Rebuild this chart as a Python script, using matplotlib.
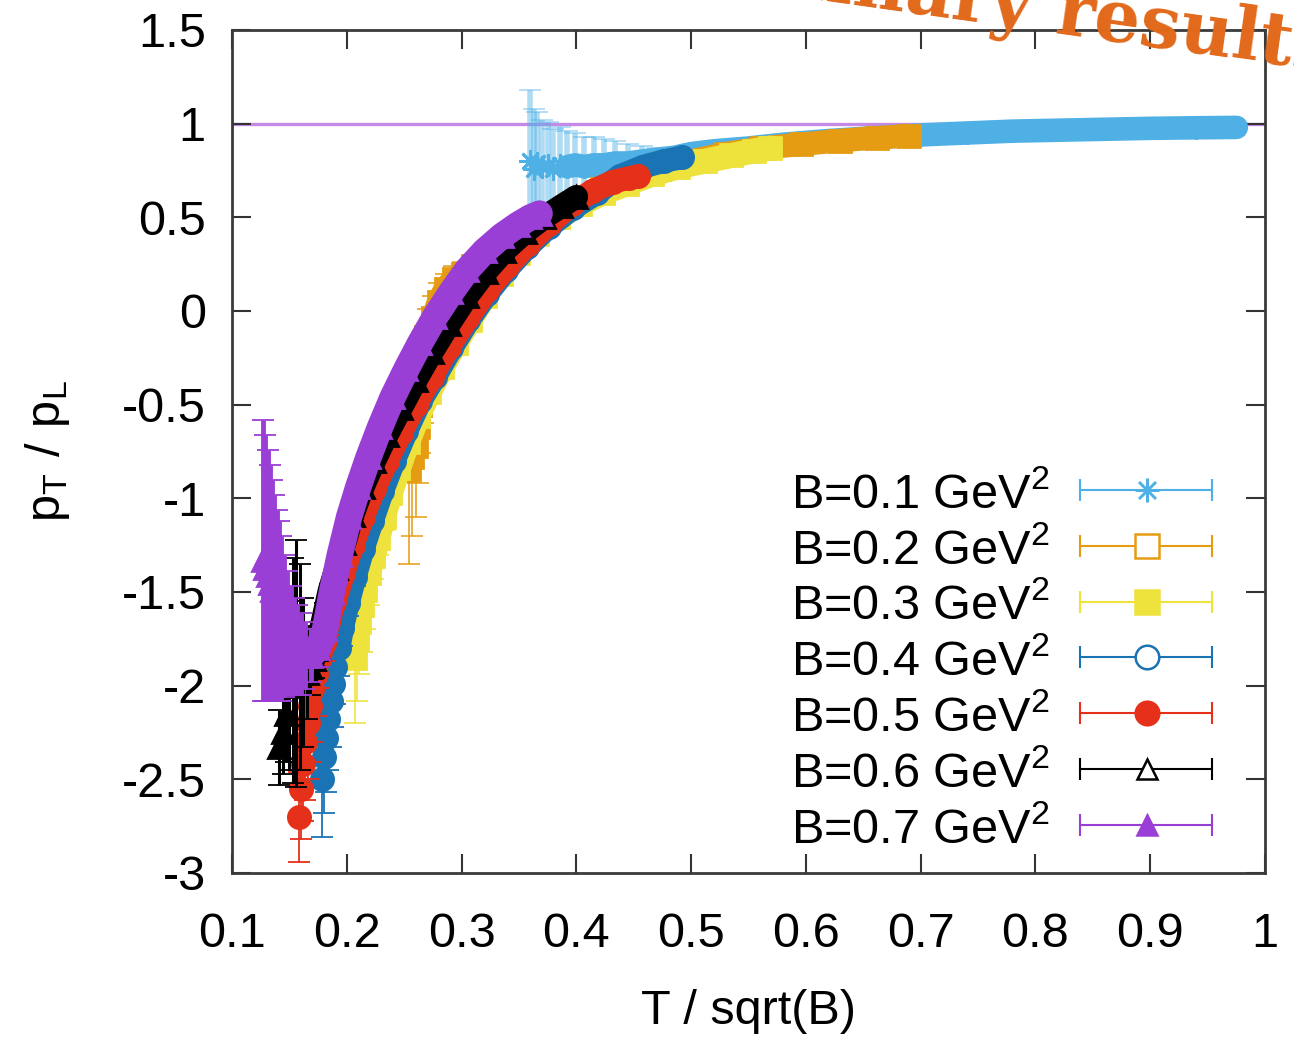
import numpy as np
import matplotlib
matplotlib.use('Agg')
import matplotlib.pyplot as plt

plt.rcParams['font.family'] = ['Liberation Sans', 'DejaVu Sans']
plt.rcParams['axes.unicode_minus'] = False

# ---------- data ----------
# x = T / sqrt(B), y = pT / pL, e = error

x_b01 = [0.360, 0.363, 0.366, 0.370, 0.375, 0.380, 0.386, 0.392, 0.399, 0.407, 0.415,
         0.424, 0.434, 0.445, 0.457, 0.470, 0.485, 0.500, 0.520, 0.550, 0.580, 0.620,
         0.660, 0.700, 0.740, 0.780, 0.820, 0.860, 0.900, 0.940, 0.975]
y_b01 = [0.80, 0.76, 0.79, 0.77, 0.78, 0.76, 0.78, 0.77, 0.78, 0.77, 0.78,
         0.78, 0.79, 0.79, 0.80, 0.81, 0.82, 0.84, 0.855, 0.87, 0.89, 0.91,
         0.925, 0.94, 0.95, 0.96, 0.965, 0.97, 0.975, 0.978, 0.98]
e_b01 = [0.38, 0.32, 0.27, 0.25, 0.23, 0.21, 0.20, 0.19, 0.17, 0.16, 0.15,
         0.14, 0.12, 0.10, 0.08, 0.06, 0.04, 0.03, 0.02, 0.015, 0.01, 0.01,
         0.01, 0.01, 0.01, 0.01, 0.01, 0.01, 0.01, 0.01, 0.01]

x_b02 = [0.254, 0.257, 0.260, 0.262, 0.264, 0.266, 0.268, 0.271, 0.275, 0.280, 0.286,
         0.293, 0.301, 0.310, 0.320, 0.332, 0.346, 0.362, 0.380, 0.400, 0.422, 0.446,
         0.472, 0.500, 0.530, 0.562, 0.596, 0.630, 0.662, 0.690]
y_b02 = [-0.85, -0.78, -0.72, -0.62, -0.50, -0.38, -0.26, -0.14, -0.04, 0.05, 0.12,
         0.17, 0.20, 0.24, 0.27, 0.31, 0.37, 0.44, 0.51, 0.58, 0.65, 0.71,
         0.76, 0.80, 0.84, 0.87, 0.89, 0.91, 0.925, 0.935]
e_b02 = [0.50, 0.42, 0.38, 0.30, 0.26, 0.22, 0.18, 0.15, 0.12, 0.10, 0.08,
         0.07, 0.06, 0.05, 0.04, 0.03, 0.03, 0.02, 0.02, 0.02, 0.02, 0.02,
         0.02, 0.02, 0.02, 0.02, 0.02, 0.02, 0.02, 0.02]

x_b03 = [0.207, 0.209, 0.211, 0.213, 0.216, 0.219, 0.223, 0.227, 0.232, 0.238, 0.245,
         0.253, 0.262, 0.272, 0.283, 0.295, 0.307, 0.320, 0.334, 0.349, 0.366, 0.384,
         0.403, 0.423, 0.444, 0.466, 0.489, 0.512, 0.535, 0.555, 0.569]
y_b03 = [-1.85, -1.75, -1.66, -1.57, -1.49, -1.40, -1.31, -1.21, -1.10, -0.97, -0.84,
         -0.70, -0.56, -0.43, -0.30, -0.17, -0.05, 0.08, 0.20, 0.31, 0.41, 0.50,
         0.57, 0.63, 0.68, 0.73, 0.77, 0.80, 0.83, 0.855, 0.87]
e_b03 = [0.35, 0.33, 0.28, 0.25, 0.21, 0.17, 0.12, 0.09, 0.07, 0.05, 0.04,
         0.03, 0.02, 0.02, 0.02, 0.02, 0.02, 0.02, 0.02, 0.02, 0.02, 0.02,
         0.02, 0.02, 0.02, 0.02, 0.02, 0.02, 0.02, 0.02, 0.02]

x_b04 = [0.178, 0.180, 0.182, 0.184, 0.186, 0.188, 0.190, 0.193, 0.196, 0.201, 0.207,
         0.214, 0.222, 0.231, 0.241, 0.252, 0.264, 0.277, 0.291, 0.306, 0.322, 0.339,
         0.357, 0.376, 0.397, 0.418, 0.438, 0.458, 0.476, 0.492]
y_b04 = [-2.50, -2.38, -2.28, -2.18, -2.08, -1.99, -1.90, -1.80, -1.69, -1.56, -1.42,
         -1.27, -1.12, -0.96, -0.80, -0.64, -0.48, -0.35, -0.20, -0.05, 0.09, 0.22,
         0.34, 0.45, 0.55, 0.63, 0.72, 0.77, 0.80, 0.82]
e_b04 = [0.31, 0.30, 0.29, 0.27, 0.25, 0.23, 0.20, 0.15, 0.10, 0.07, 0.05,
         0.04, 0.03, 0.03, 0.02, 0.02, 0.02, 0.02, 0.02, 0.02, 0.02, 0.02,
         0.02, 0.02, 0.02, 0.02, 0.02, 0.02, 0.02, 0.02]

x_b05 = [0.158, 0.160, 0.162, 0.164, 0.166, 0.168, 0.170, 0.173, 0.176, 0.180, 0.184,
         0.190, 0.197, 0.205, 0.214, 0.224, 0.235, 0.247, 0.260, 0.274, 0.289, 0.305,
         0.322, 0.340, 0.358, 0.377, 0.396, 0.414, 0.432, 0.446, 0.454]
y_b05 = [-2.70, -2.55, -2.42, -2.30, -2.20, -2.11, -2.02, -1.94, -1.86, -1.77, -1.66,
         -1.54, -1.40, -1.25, -1.10, -0.95, -0.80, -0.65, -0.50, -0.35, -0.19, -0.04,
         0.11, 0.24, 0.36, 0.47, 0.57, 0.64, 0.69, 0.71, 0.72]
e_b05 = [0.24, 0.27, 0.30, 0.31, 0.30, 0.30, 0.28, 0.22, 0.15, 0.10, 0.07,
         0.05, 0.04, 0.03, 0.02, 0.02, 0.02, 0.02, 0.02, 0.02, 0.02, 0.02,
         0.02, 0.02, 0.02, 0.02, 0.02, 0.02, 0.02, 0.02, 0.02]

x_b06 = [0.141, 0.144, 0.147, 0.150, 0.153, 0.156, 0.159, 0.162, 0.165, 0.168, 0.171,
         0.175, 0.177, 0.181, 0.185, 0.191, 0.198, 0.205, 0.214, 0.224, 0.235, 0.247,
         0.260, 0.274, 0.289, 0.305, 0.321, 0.337, 0.355, 0.372, 0.387, 0.400]
y_b06 = [-2.33, -2.25, -2.15, -2.00, -1.92, -1.88, -1.90, -1.93, -1.93, -1.90, -1.86,
         -1.80, -1.71, -1.60, -1.49, -1.37, -1.24, -1.09, -0.94, -0.80, -0.66, -0.52,
         -0.37, -0.22, -0.07, 0.08, 0.21, 0.32, 0.42, 0.50, 0.56, 0.61]
e_b06 = [0.20, 0.22, 0.26, 0.45, 0.60, 0.66, 0.55, 0.40, 0.25, 0.15, 0.10,
         0.07, 0.05, 0.04, 0.03, 0.03, 0.02, 0.02, 0.02, 0.02, 0.02, 0.02,
         0.02, 0.02, 0.02, 0.02, 0.02, 0.02, 0.02, 0.02, 0.02, 0.02]

x_b07 = [0.127, 0.129, 0.131, 0.133, 0.135, 0.137, 0.139, 0.141, 0.143, 0.145, 0.148,
         0.151, 0.154, 0.157, 0.160, 0.164, 0.169, 0.175, 0.181, 0.187, 0.194, 0.202,
         0.210, 0.219, 0.229, 0.240, 0.252, 0.264, 0.277, 0.291, 0.305, 0.320, 0.335,
         0.349, 0.360, 0.368]
y_b07 = [-1.33, -1.37, -1.41, -1.45, -1.49, -1.53, -1.57, -1.60, -1.64, -1.68, -1.72,
         -1.76, -1.79, -1.81, -1.83, -1.84, -1.84, -1.80, -1.70, -1.50, -1.30, -1.10,
         -0.94, -0.78, -0.62, -0.46, -0.31, -0.17, -0.03, 0.10, 0.22, 0.32, 0.40,
         0.46, 0.50, 0.52]
e_b07 = [0.75, 0.71, 0.67, 0.63, 0.59, 0.55, 0.51, 0.48, 0.44, 0.38, 0.33,
         0.29, 0.26, 0.24, 0.22, 0.18, 0.14, 0.10, 0.07, 0.05, 0.04, 0.03,
         0.02, 0.02, 0.02, 0.02, 0.02, 0.02, 0.02, 0.02, 0.02, 0.02, 0.02,
         0.02, 0.02, 0.02]

labels = ['B=0.1 GeV$\\mathregular{^2}$', 'B=0.2 GeV$\\mathregular{^2}$',
          'B=0.3 GeV$\\mathregular{^2}$', 'B=0.4 GeV$\\mathregular{^2}$',
          'B=0.5 GeV$\\mathregular{^2}$', 'B=0.6 GeV$\\mathregular{^2}$',
          'B=0.7 GeV$\\mathregular{^2}$']

x_ticks = [0.1, 0.2, 0.3, 0.4, 0.5, 0.6, 0.7, 0.8, 0.9, 1.0]
x_ticklabels = ['0.1', '0.2', '0.3', '0.4', '0.5', '0.6', '0.7', '0.8', '0.9', '1']
y_ticks = [1.5, 1.0, 0.5, 0.0, -0.5, -1.0, -1.5, -2.0, -2.5, -3.0]
y_ticklabels = ['1.5', '1', '0.5', '0', '-0.5', '-1', '-1.5', '-2', '-2.5', '-3']

# ---------- style ----------
colors = ['#4fb0e6', '#e59c12', '#eee23c', '#1a74b4', '#e5301a', '#000000', '#9a3fd5']
markers = [(8, 2, 0), 's', 's', 'o', 'o', '^', '^']
filled = [True, False, True, False, True, False, True]
err_alpha = [0.45, 0.85, 0.9, 1, 1, 1, 1]
err_lw = [4.0, 1.3, 1.3, 1.3, 1.3, 2.2, 3.5]
band_lw = [17, 17, 18, 17, 17, 17, 19]

series = [(x_b01, y_b01, e_b01), (x_b02, y_b02, e_b02), (x_b03, y_b03, e_b03),
          (x_b04, y_b04, e_b04), (x_b05, y_b05, e_b05), (x_b06, y_b06, e_b06),
          (x_b07, y_b07, e_b07)]

fig = plt.figure(figsize=(12.94, 10.41), dpi=100)
ax = fig.add_axes([0.1793, 0.1614, 0.7983, 0.8098])

ax.axhline(1.0, color='#c48ae6', lw=2.4, zorder=1.5)

for i, (x, y, e) in enumerate(series):
    x = np.array(x)
    y = np.array(y)
    e = np.array(e)
    c = colors[i]
    z = 2 + i
    ax.errorbar(x, y, yerr=e, fmt='none', ecolor=c, elinewidth=err_lw[i],
                capsize=8, capthick=1.3, alpha=err_alpha[i], zorder=z)
    # dense points merge into a band where errors are small
    ok = e < 0.2
    ax.plot(x[ok], y[ok], color=c, lw=band_lw[i], solid_capstyle='round',
            solid_joinstyle='round', zorder=z + 0.1)
    ax.plot(x, y, ls='none', marker=markers[i], ms=16, color=c,
            mew=2, zorder=z + 0.2)

ax.set_xlim(0.1, 1.0)
ax.set_ylim(-3, 1.5)
ax.set_xticks(x_ticks)
ax.set_xticklabels(x_ticklabels)
ax.set_yticks(y_ticks)
ax.set_yticklabels(y_ticklabels)
ax.tick_params(which='both', direction='in', length=14, width=1.5,
               color='#333333', top=True, right=True, labelsize=35)
ax.tick_params(axis='x', pad=28)
ax.tick_params(axis='y', pad=19)
for s in ax.spines.values():
    s.set_linewidth(2.0)
    s.set_color('#3a3a3a')
    s.set_zorder(20)

ax.set_xlabel('T / sqrt(B)', fontsize=35)
ax.xaxis.set_label_coords(0.5, -0.138)
ax.set_ylabel('$\\mathregular{p_T\\ /\\ p_L}$', fontsize=35)
ax.yaxis.set_label_coords(-0.155, 0.5)

# ---------- key (gnuplot style, errorbar samples) ----------
row0 = 0.4543
dy = 0.0662
for i in range(7):
    yy = row0 - i * dy
    c = colors[i]
    ax.text(0.792, yy - 0.021, labels[i], transform=ax.transAxes, ha='right',
            va='baseline', fontsize=35, zorder=21)
    ax.plot([0.821, 0.949], [yy, yy], color=c, lw=1.5, transform=ax.transAxes,
            zorder=21, clip_on=False)
    ax.plot([0.821, 0.949], [yy, yy], ls='none', marker='|', ms=16, mew=1.5,
            color=c, transform=ax.transAxes, zorder=21, clip_on=False)
    ms = 17 if markers[i] != '^' else 14
    ax.plot([0.886], [yy], ls='none', marker=markers[i], ms=ms, mew=1.8,
            color=c, mfc=c if filled[i] else 'white', transform=ax.transAxes,
            zorder=22, clip_on=False)

# overlay banner text, mostly outside the canvas
fig.text(1330 / 1294, 1 - 72 / 1041, 'Preliminary results', color='#e2691b',
         fontsize=52, fontweight='bold', family='DejaVu Serif',
         ha='right', va='baseline', rotation=-8, rotation_mode='anchor')

fig.savefig('out.png', dpi=100)
